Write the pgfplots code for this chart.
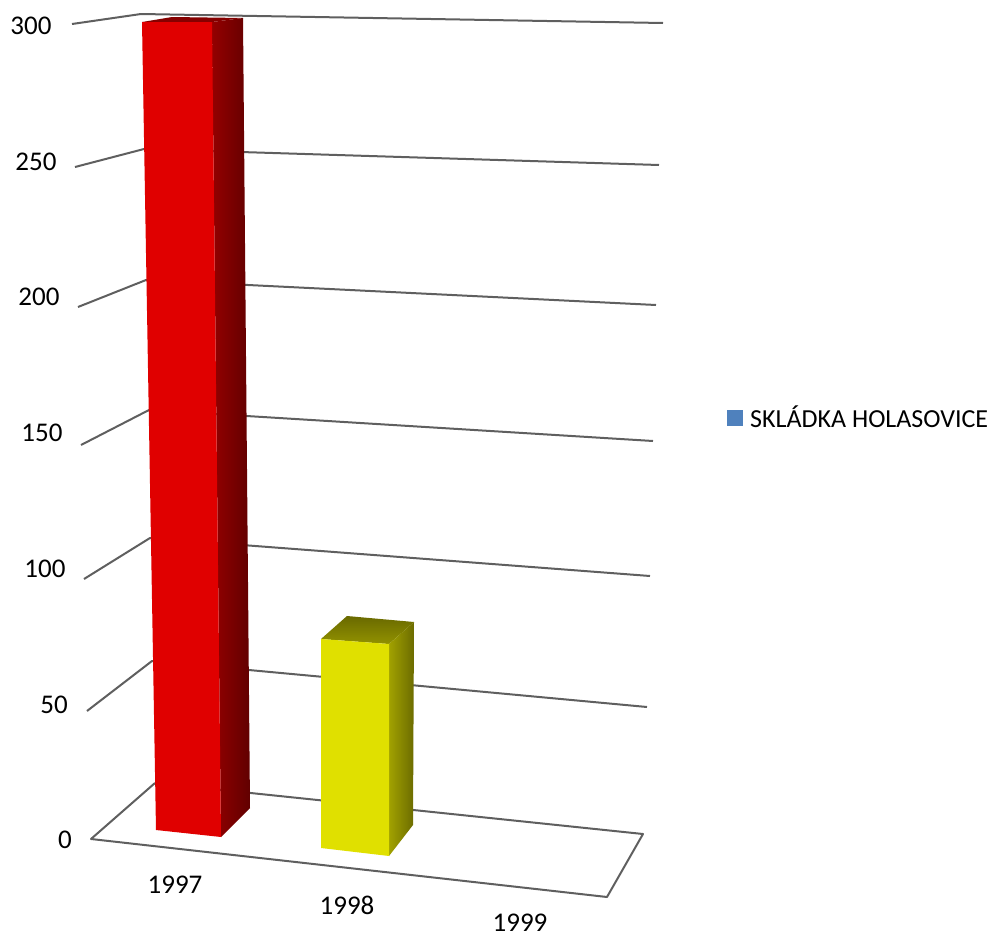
\documentclass[border=0pt]{standalone}
\usepackage{pgfplots}
\pgfplotsset{compat=1.18}
\usepackage{fontspec}
\setmainfont{Carlito}
\definecolor{gridgrey}{HTML}{5F5F5F}
\definecolor{redfront}{HTML}{E00000}
\definecolor{yellowfront}{HTML}{E0E000}
\definecolor{legendblue}{HTML}{4F81BD}
\tikzset{
  gridline/.style={draw=gridgrey, line width=2pt, line join=round},
  lab/.style={font=\fontsize{27}{27}\selectfont, text=black, inner sep=0pt, anchor=center},
}
\begin{document}
\begin{tikzpicture}
\useasboundingbox (0,0) rectangle (997pt,940pt);
\begin{axis}[
  at={(0,0)}, anchor=south west,
  scale only axis, width=997pt, height=940pt,
  xmin=0, xmax=997, ymin=0, ymax=940, y dir=reverse,
  hide axis, clip=false,
]
% floor of the chart
\addplot[gridline] coordinates {(155,783) (91,839) (607,897) (643,834) (155,783)};
% horizontal levels 50 ... 300, each with its tick and its run along the back wall
\addplot[gridline] coordinates {(87,711) (152,661) (647,707)};
\addplot[gridline] coordinates {(84,579) (150,538) (650,576)};
\addplot[gridline] coordinates {(81,445) (149,410) (653,441)};
\addplot[gridline] coordinates {(78,307) (146,280) (656,305)};
\addplot[gridline] coordinates {(75,167) (144,149) (659,165)};
\addplot[gridline] coordinates {(72,24) (141,14) (663,23)};

% 1997 column
\addplot[fill=redfront!60!black, draw=none] coordinates {(142,22) (172,17) (243,18) (212,22)} -- cycle;
\addplot[shade, left color=red!58!black, right color=red!38!black, draw=none] coordinates {(212,22) (243,18) (250,808) (221,837)} -- cycle;
\addplot[fill=redfront, draw=none] coordinates {(142,22) (212,22) (221,837) (156,830)} -- cycle;

% 1998 column
\addplot[shade, bottom color=yellowfront!65!black, top color=yellowfront!47!black, draw=none] coordinates {(321,639) (347,616) (414,622) (389,644)} -- cycle;
\addplot[shade, left color=yellowfront!72!black, right color=yellowfront!48!black, draw=none] coordinates {(389,644) (414,622) (413,825) (389,856)} -- cycle;
\addplot[fill=yellowfront, draw=none] coordinates {(321,639) (389,644) (389,856) (321,848)} -- cycle;

% legend key
\addplot[fill=legendblue, draw=none] coordinates {(727,410) (743,410) (743,426) (727,426)} -- cycle;

% value axis labels
\node[lab] at (axis cs:31,26) {300};
\node[lab] at (axis cs:36,162) {250};
\node[lab] at (axis cs:39,297) {200};
\node[lab] at (axis cs:42,433) {150};
\node[lab] at (axis cs:45,569) {100};
\node[lab] at (axis cs:54,705) {50};
\node[lab] at (axis cs:65,840) {0};
% category labels
\node[lab] at (axis cs:175,885) {1997};
\node[lab] at (axis cs:347,905) {1998};
\node[lab] at (axis cs:520,923) {1999};
% legend text
\node[lab, anchor=west, font=\fontsize{26}{26}\selectfont] at (axis cs:750,417) {SKLÁDKA HOLASOVICE};
\end{axis}
\end{tikzpicture}
\end{document}
